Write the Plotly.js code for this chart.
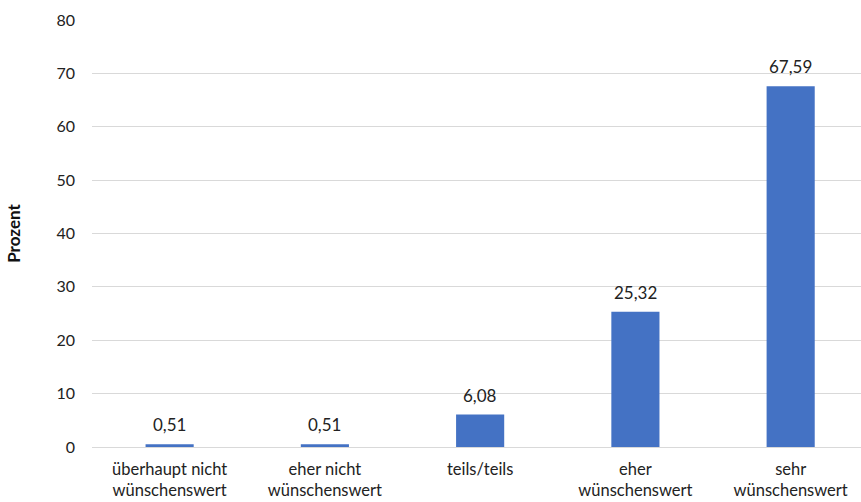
<!DOCTYPE html>
<html>
<head>
<meta charset="utf-8">
<script src="https://cdn.plot.ly/plotly-3.0.1.min.js"></script>
<style>html,body{margin:0;padding:0;background:#fff;}#chart{width:861px;height:502px;}</style>
</head>
<body>
<div id="chart"></div>
<script>
const categories = ["überhaupt nicht<br>wünschenswert", "eher nicht<br>wünschenswert", "teils/teils", "eher<br>wünschenswert", "sehr<br>wünschenswert"];
const values = [0.51, 0.51, 6.08, 25.32, 67.59];
const yTicks = [0, 10, 20, 30, 40, 50, 60, 70, 80];

const xIdx = categories.map((c, i) => i);
const labels = values.map(v => v.toFixed(2).replace('.', ','));

const trace = {
  type: 'bar',
  x: xIdx,
  y: values,
  marker: {color: '#4472C4'},
  hoverinfo: 'none'
};

const annotations = values.map((v, i) => ({
  x: i, y: v, xref: 'x', yref: 'y',
  text: labels[i], showarrow: false,
  yanchor: 'bottom', yshift: 7,
  font: {family: 'Lato, sans-serif', size: 17, color: '#222'}
}));

const layout = {
  width: 861, height: 502,
  margin: {l: 92, r: 0, t: 20, b: 55},
  paper_bgcolor: '#fff', plot_bgcolor: '#fff',
  bargap: 0.69,
  showlegend: false,
  font: {family: 'Lato, sans-serif', size: 16, color: '#222'},
  xaxis: {
    range: [-0.5, 4.453],
    tickmode: 'array', tickvals: xIdx, ticktext: categories,
    showgrid: false, zeroline: false, showline: false,
    ticks: '', ticklabelstandoff: 10,
    tickfont: {family: 'Lato, sans-serif', size: 16.5, color: '#222'}
  },
  yaxis: {
    range: [0, 80],
    tickmode: 'array', tickvals: yTicks, ticktext: yTicks.map(String),
    showgrid: true, gridcolor: '#d9d9d9', gridwidth: 1,
    zeroline: true, zerolinecolor: '#d9d9d9', zerolinewidth: 1,
    showline: false, ticks: '', ticklabelstandoff: 16,
    tickfont: {family: 'Lato, sans-serif', size: 16, color: '#222'},
    title: {text: '<b>Prozent</b>', standoff: 31, font: {family: 'Lato, sans-serif', size: 17, color: '#111'}}
  },
  annotations: annotations
};

Plotly.newPlot('chart', [trace], layout, {staticPlot: true, displayModeBar: false});
</script>
</body>
</html>
